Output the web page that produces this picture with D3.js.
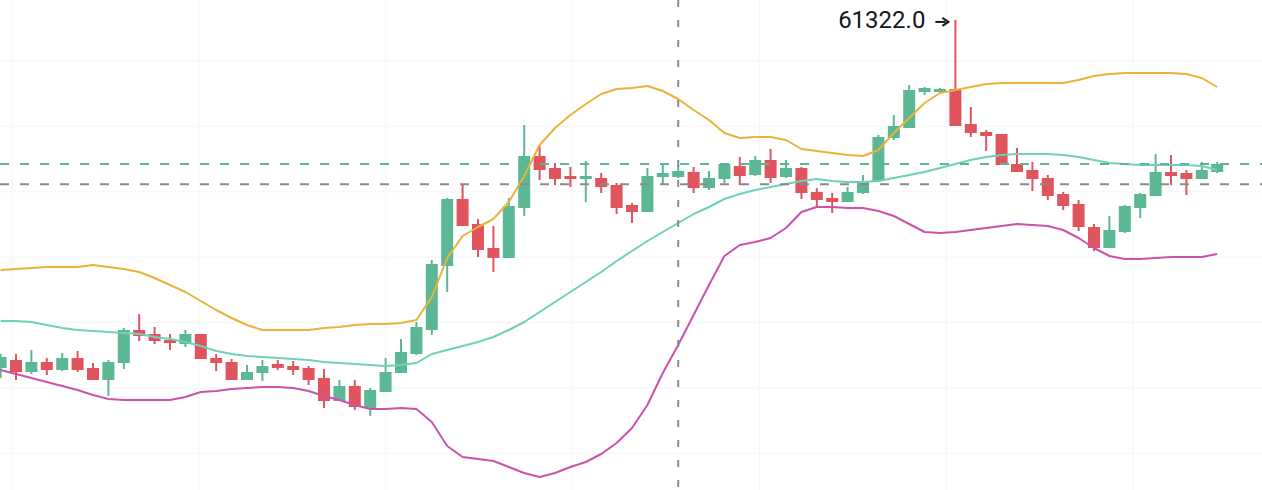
<!DOCTYPE html>
<html lang="en">
<head>
    <meta charset="UTF-8">
    <title>Candles with Bollinger bands</title>
    <script src="https://d3js.org/d3.v7.min.js"></script>
    <style>
        body{
            margin: 0;
            background: #ffffff;
            overflow: hidden;
        }
        #chart{
            display: block;
        }
        .label{
            font-family: Roboto, sans-serif;
            fill: #131722;
        }
    </style>
</head>
<body>
    <div id="chart"></div>
    <script>

        // candle data, one entry per bar (index 0 = left edge)
        const opens = [50880,51120,50760,51060,50820,51180,50880,50520,51030,52020,
                       51900,51720,51600,51900,51180,51060,50520,50730,51000,50940,
                       50880,50580,49890,50340,49680,50160,50730,51300,52020,53940,
                       55950,55200,54480,54180,55680,57240,56880,56640,56550,56580,
                       56370,55770,55560,56610,56610,56760,56280,56550,56940,56670,
                       57120,56610,56880,56160,55980,55860,56130,56490,57780,58080,
                       59160,59160,59250,58200,57960,57900,57000,56820,56580,56100,
                       55800,55110,54480,54960,55680,56040,56760,56730,56550,56760]
        const highs = [51300,51300,51420,51180,51330,51390,51030,51120,52080,52500,
                       52110,51900,52020,51900,51300,51150,50970,51120,51120,51090,
                       50940,50850,50520,50520,50280,51180,51750,52260,54120,55980,
                       56370,55350,55140,55980,58170,57540,57030,56910,57090,56730,
                       56430,55830,56880,57000,56970,56910,56790,57030,57210,57240,
                       57450,57120,56910,56280,56130,56310,56670,57870,58470,59370,
                       59310,59280,61322,58710,58020,57900,57480,57060,56670,56160,
                       55920,55200,55440,55770,56130,57300,57270,56820,57060,57060]
        const lows = [50580,50520,50700,50670,50790,50760,50520,50040,50850,51690,
                      51600,51420,51510,51150,50790,50520,50520,50490,50820,50670,
                      50370,49680,49890,49620,49440,50160,50730,51270,51870,53160,
                      55140,54210,53760,54180,55440,56520,56370,56310,55860,56130,
                      55500,55230,55560,56400,56580,56130,56220,56430,56370,56640,
                      56430,56580,55950,55680,55530,55860,56100,56460,57720,58080,
                      59070,59130,58140,57810,57390,56970,56760,56190,55920,55620,
                      54990,54390,54480,54930,55380,56040,56370,56070,56550,56730]
        const closes = [51210,50760,51060,50820,51180,50820,50520,51060,52020,51840,
                        51690,51630,51900,51150,51030,50520,50760,50940,50880,50820,
                        50520,49890,50340,49710,50220,50760,51360,52110,54000,55950,
                        55140,54420,54180,55740,57240,56820,56550,56550,56640,56310,
                        55680,55560,56640,56730,56790,56280,56580,57000,56640,57120,
                        56580,56880,56130,55920,55860,56160,56460,57810,58140,59220,
                        59280,59250,58140,57930,57840,56970,56760,56550,56040,55740,
                        55110,54480,55020,55740,56100,56760,56640,56550,56820,57000]

        // bollinger bands
        const upperBand = [53820,53850,53880,53910,53910,53910,53970,53910,53850,53760,
                           53580,53370,53160,52890,52620,52380,52170,52020,52020,52020,
                           52020,52080,52110,52170,52200,52200,52230,52320,53010,54180,
                           54840,55110,55350,55860,56640,57570,58080,58470,58800,59100,
                           59250,59280,59340,59190,58950,58620,58320,57930,57780,57810,
                           57810,57720,57450,57390,57330,57270,57240,57420,57930,58380,
                           58830,59130,59220,59310,59400,59430,59430,59430,59430,59430,
                           59520,59640,59700,59730,59730,59730,59730,59700,59580,59310]
        const middleBand = [52290,52290,52260,52170,52080,52020,51990,51960,51930,51900,
                            51810,51750,51660,51540,51390,51300,51240,51210,51180,51150,
                            51120,51060,51030,51000,50970,50940,50970,51030,51300,51420,
                            51540,51660,51810,52020,52260,52560,52860,53160,53460,53760,
                            54090,54390,54690,54960,55230,55500,55710,55950,56100,56220,
                            56310,56400,56490,56550,56490,56460,56460,56490,56580,56670,
                            56760,56880,57000,57120,57210,57270,57300,57300,57300,57270,
                            57210,57120,57030,57000,56970,56970,56970,56970,56940,56820]
        const lowerBand = [50820,50700,50580,50460,50340,50220,50070,49950,49920,49920,
                           49920,49920,50010,50160,50190,50250,50280,50310,50310,50280,
                           50190,50040,49920,49770,49650,49650,49680,49650,49260,48540,
                           48210,48150,48090,47910,47730,47610,47730,47910,48060,48300,
                           48630,49080,49770,50730,51570,52470,53370,54240,54570,54660,
                           54780,55080,55560,55710,55710,55680,55680,55590,55440,55200,
                           54960,54930,54960,55020,55080,55140,55200,55170,55140,55020,
                           54780,54480,54240,54150,54150,54180,54210,54210,54210,54300]

        const highLabel = "61322.0"
        const crosshair = {index: 44, price: 56390}
        const gridPrices = d3.range(60090, 47000, -1962)
        const gridIndex = d3.range(0.75, 80, 12.13)

        const size = {width: 1262, height: 490}
        const colors = {up: "#5cb894", down: "#e0545e", upper: "#ecb23a",
                        middle: "#6ed2b8", lower: "#cc52ab", grid: "#f6f6f8", cross: "#8a8a8a"}

        const candles = opens.map((o, i) => ({i: i, open: o, high: highs[i], low: lows[i], close: closes[i]}))

        const xScale = d3.scaleLinear()
                            .domain([0, candles.length - 1])
                            .range([0.6, 1217.2])
        const yScale = d3.scaleLinear()
                            .domain([61920, 47220])
                            .range([0, size.height])
        const barWidth = 12

        const svg = d3.select("#chart")
                        .append("svg")
                        .attr("width", size.width)
                        .attr("height", size.height)

        // faint grid
        svg.append("g").selectAll("line")
            .data(gridPrices)
            .join("line")
            .attr("x1", 0).attr("x2", size.width)
            .attr("y1", d => yScale(d)).attr("y2", d => yScale(d))
            .attr("stroke", colors.grid)
            .attr("stroke-width", 1)
        svg.append("g").selectAll("line")
            .data(gridIndex)
            .join("line")
            .attr("x1", d => xScale(d)).attr("x2", d => xScale(d))
            .attr("y1", 0).attr("y2", size.height)
            .attr("stroke", colors.grid)
            .attr("stroke-width", 1)

        // candles
        const bars = svg.append("g").selectAll("g")
                        .data(candles)
                        .join("g")
                        .attr("fill", d => d.close >= d.open ? colors.up : colors.down)
                        .attr("stroke", d => d.close >= d.open ? colors.up : colors.down)
        bars.append("line")
            .attr("x1", d => xScale(d.i)).attr("x2", d => xScale(d.i))
            .attr("y1", d => yScale(d.high)).attr("y2", d => yScale(d.low))
            .attr("stroke-width", 2)
        bars.append("rect")
            .attr("x", d => xScale(d.i) - barWidth / 2)
            .attr("width", barWidth)
            .attr("y", d => yScale(Math.max(d.open, d.close)))
            .attr("height", d => Math.max(2, yScale(Math.min(d.open, d.close)) - yScale(Math.max(d.open, d.close))))
            .attr("stroke", "none")

        // bands
        const bandLine = d3.line().x((d, i) => xScale(i)).y(d => yScale(d))
        const bands = [[upperBand, colors.upper], [middleBand, colors.middle], [lowerBand, colors.lower]]
        bands.forEach(b => {
            svg.append("path")
                .attr("d", bandLine(b[0]))
                .attr("fill", "none")
                .attr("stroke", b[1])
                .attr("stroke-width", 2)
                .attr("stroke-linejoin", "round")
        })

        // last price line
        const lastClose = closes[closes.length - 1]
        svg.append("line")
            .attr("x1", 0).attr("x2", size.width)
            .attr("y1", yScale(lastClose)).attr("y2", yScale(lastClose))
            .attr("stroke", colors.up)
            .attr("stroke-width", 2)
            .attr("stroke-dasharray", "9,11")

        // crosshair
        svg.append("line")
            .attr("x1", 0).attr("x2", size.width)
            .attr("y1", yScale(crosshair.price)).attr("y2", yScale(crosshair.price))
            .attr("stroke", colors.cross)
            .attr("stroke-width", 2)
            .attr("stroke-dasharray", "9,11")
        svg.append("line")
            .attr("x1", xScale(crosshair.index)).attr("x2", xScale(crosshair.index))
            .attr("y1", 0).attr("y2", size.height)
            .attr("stroke", colors.cross)
            .attr("stroke-width", 2)
            .attr("stroke-dasharray", "7,13")

        // max high marker: value text plus a small arrow pointing at the wick
        const topIdx = d3.maxIndex(highs)
        const tx = xScale(topIdx)
        const ty = yScale(highs[topIdx])
        svg.append("text")
            .attr("class", "label")
            .attr("x", tx - 30)
            .attr("y", ty + 8.5)
            .attr("text-anchor", "end")
            .attr("font-size", "24px")
            .text(highLabel)
        const arrow = svg.append("g")
                        .attr("transform", `translate(${tx - 7},${ty + 2})`)
        arrow.append("line")
            .attr("x1", -13).attr("x2", -3)
            .attr("y1", 0).attr("y2", 0)
            .attr("stroke", "#131722")
            .attr("stroke-width", 2)
        arrow.append("path")
            .attr("d", "M-6,-4L0,0L-6,4")
            .attr("fill", "none")
            .attr("stroke", "#131722")
            .attr("stroke-width", 2)
            .attr("stroke-linejoin", "miter")

    </script>
</body>
</html>
